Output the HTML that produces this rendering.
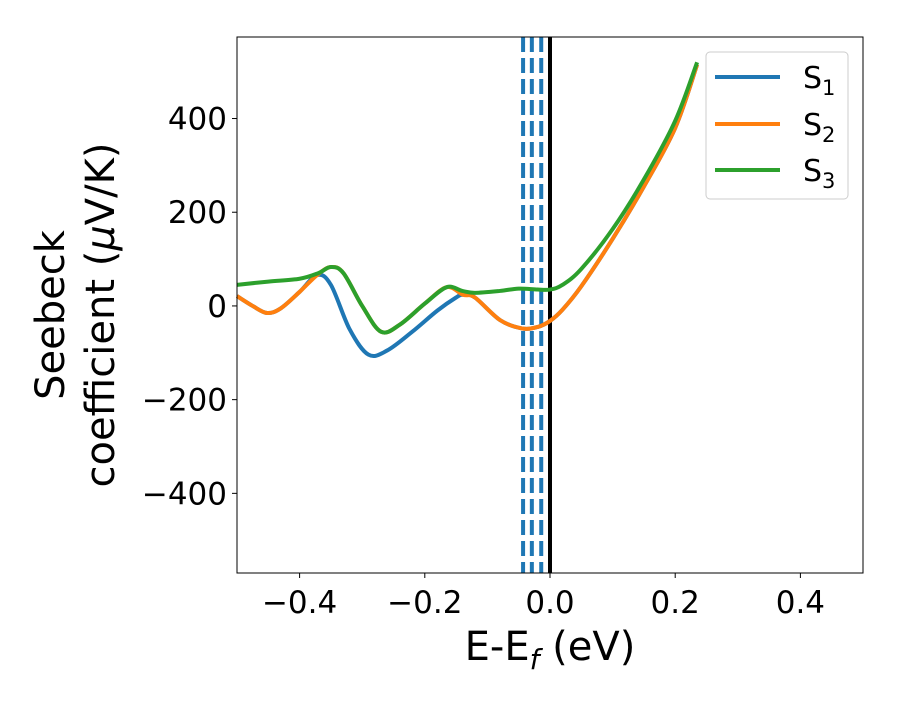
<!DOCTYPE html>
<html><head><meta charset="utf-8"><style>
body{margin:0;background:#fff}
svg text{font-family:"DejaVu Sans","Liberation Sans",sans-serif;fill:#000}
</style></head><body>
<svg id="chart" width="900" height="700">
<rect x="0" y="0" width="900" height="700" fill="#fff"/>
<g id="series"></g>
<rect x="237" y="37" width="626" height="536" fill="none" stroke="#000" stroke-width="1"/>
<g id="ticks"></g>
<text x="550" y="660" text-anchor="middle" font-size="40">E-E<tspan font-size="28" dy="9" font-style="italic">f</tspan><tspan dy="-9"> (eV)</tspan></text>
<g transform="translate(0,315) rotate(-90)">
<text x="0" y="64" text-anchor="middle" font-size="40">Seebeck</text>
<text x="0" y="114" text-anchor="middle" font-size="40">coefficient  (<tspan font-style="italic">μ</tspan>V/K)</text>
</g>
<g>
<rect x="706" y="52" width="142" height="147" rx="4" fill="#fff" fill-opacity="0.8" stroke="#ccc"/>
<line x1="715" y1="77" x2="780" y2="77" stroke="#1f77b4" stroke-width="4"/>
<text x="803" y="88" font-size="30">S<tspan font-size="21" dy="7">1</tspan></text>
<line x1="715" y1="124" x2="780" y2="124" stroke="#ff7f0e" stroke-width="4"/>
<text x="803" y="135" font-size="30">S<tspan font-size="21" dy="7">2</tspan></text>
<line x1="715" y1="170" x2="780" y2="170" stroke="#2ca02c" stroke-width="4"/>
<text x="803" y="181" font-size="30">S<tspan font-size="21" dy="7">3</tspan></text>
</g>
</svg>
<script>
const xTicks=[-0.4,-0.2,0.0,0.2,0.4];
const xTickLabels=["−0.4","−0.2","0.0","0.2","0.4"];
const yTicks=[-400,-200,0,200,400];
const yTickLabels=["−400","−200","0","200","400"];
const s1X=[-0.5,-0.475,-0.452,-0.43,-0.4,-0.372,-0.35,-0.32,-0.29,-0.26,-0.22,-0.18,-0.15,-0.139,-0.12,-0.08,-0.045,-0.02,0,0.02,0.05,0.1,0.15,0.2,0.235];
const s1Y=[21,0,-15,-5,30,66,45,-50,-104,-95,-55,-10,18,24,18,-30,-48,-45,-32,-8,42,143,255,380,515];
const s2X=[-0.5,-0.475,-0.452,-0.43,-0.4,-0.372,-0.35,-0.33,-0.3,-0.27,-0.24,-0.2,-0.165,-0.139,-0.12,-0.08,-0.045,-0.02,0,0.02,0.05,0.1,0.15,0.2,0.235];
const s2Y=[21,0,-15,-5,30,66,83,70,0,-55,-40,5,40,24,18,-30,-48,-45,-32,-8,42,143,255,380,515];
const s3X=[-0.5,-0.45,-0.4,-0.37,-0.35,-0.33,-0.3,-0.27,-0.24,-0.2,-0.165,-0.14,-0.12,-0.08,-0.05,-0.02,0,0.02,0.05,0.1,0.15,0.2,0.235];
const s3Y=[45,52,58,70,83,70,0,-55,-40,5,40,32,28,32,37,35,35,45,79,164,270,395,520];
const vLines=[-0.043,-0.029,-0.014];
const xMin=-0.5,xMax=0.5,yMin=-570,yMax=574;
const L=237,R=863,T=37,B=573;
const sx=v=>L+(v-xMin)/(xMax-xMin)*(R-L);
const sy=v=>B-(v-yMin)/(yMax-yMin)*(B-T);
const NS="http://www.w3.org/2000/svg";
const gS=document.getElementById('series'),gT=document.getElementById('ticks');
function path(xs,ys){const p=xs.map((x,i)=>[sx(x),sy(ys[i])]);let d=`M${p[0][0]},${p[0][1]}`;
for(let i=0;i<p.length-1;i++){const p0=p[i-1]||p[i],p1=p[i],p2=p[i+1],p3=p[i+2]||p2;
d+=`C${p1[0]+(p2[0]-p0[0])/6},${p1[1]+(p2[1]-p0[1])/6} ${p2[0]-(p3[0]-p1[0])/6},${p2[1]-(p3[1]-p1[1])/6} ${p2[0]},${p2[1]}`;}return d;}
vLines.forEach((v,i)=>{const l=document.createElementNS(NS,'line');
l.setAttribute('x1',sx(v));l.setAttribute('x2',sx(v));l.setAttribute('y1',T);l.setAttribute('y2',B);
l.setAttribute('stroke','#1f77b4');l.setAttribute('stroke-width','4');l.setAttribute('stroke-dasharray','15 6');

gS.appendChild(l);});
const z=document.createElementNS(NS,'line');z.setAttribute('x1',sx(0));z.setAttribute('x2',sx(0));z.setAttribute('y1',T);z.setAttribute('y2',B);
z.setAttribute('stroke','#000');z.setAttribute('stroke-width','4');

gS.appendChild(z);
[[s1X,s1Y,'#1f77b4','series-s1'],[s2X,s2Y,'#ff7f0e','series-s2'],[s3X,s3Y,'#2ca02c','series-s3']].forEach(s=>{
const p=document.createElementNS(NS,'path');p.setAttribute('d',path(s[0],s[1]));p.setAttribute('fill','none');
p.setAttribute('stroke',s[2]);p.setAttribute('stroke-width','4');

gS.appendChild(p);});
xTicks.forEach((v,i)=>{const l=document.createElementNS(NS,'line');l.setAttribute('x1',sx(v));l.setAttribute('x2',sx(v));l.setAttribute('y1',B);l.setAttribute('y2',B+5);l.setAttribute('stroke','#000');

gT.appendChild(l);
const t=document.createElementNS(NS,'text');t.setAttribute('x',sx(v));t.setAttribute('y',B+40);t.setAttribute('text-anchor','middle');t.setAttribute('font-size','31');t.textContent=xTickLabels[i];

gT.appendChild(t);});
yTicks.forEach((v,i)=>{const l=document.createElementNS(NS,'line');l.setAttribute('x1',L-5);l.setAttribute('x2',L);l.setAttribute('y1',sy(v));l.setAttribute('y2',sy(v));l.setAttribute('stroke','#000');

gT.appendChild(l);
const t=document.createElementNS(NS,'text');t.setAttribute('x',L-10);t.setAttribute('y',sy(v)+11);t.setAttribute('text-anchor','end');t.setAttribute('font-size','31');t.textContent=yTickLabels[i];

gT.appendChild(t);});
</script>
</body></html>
